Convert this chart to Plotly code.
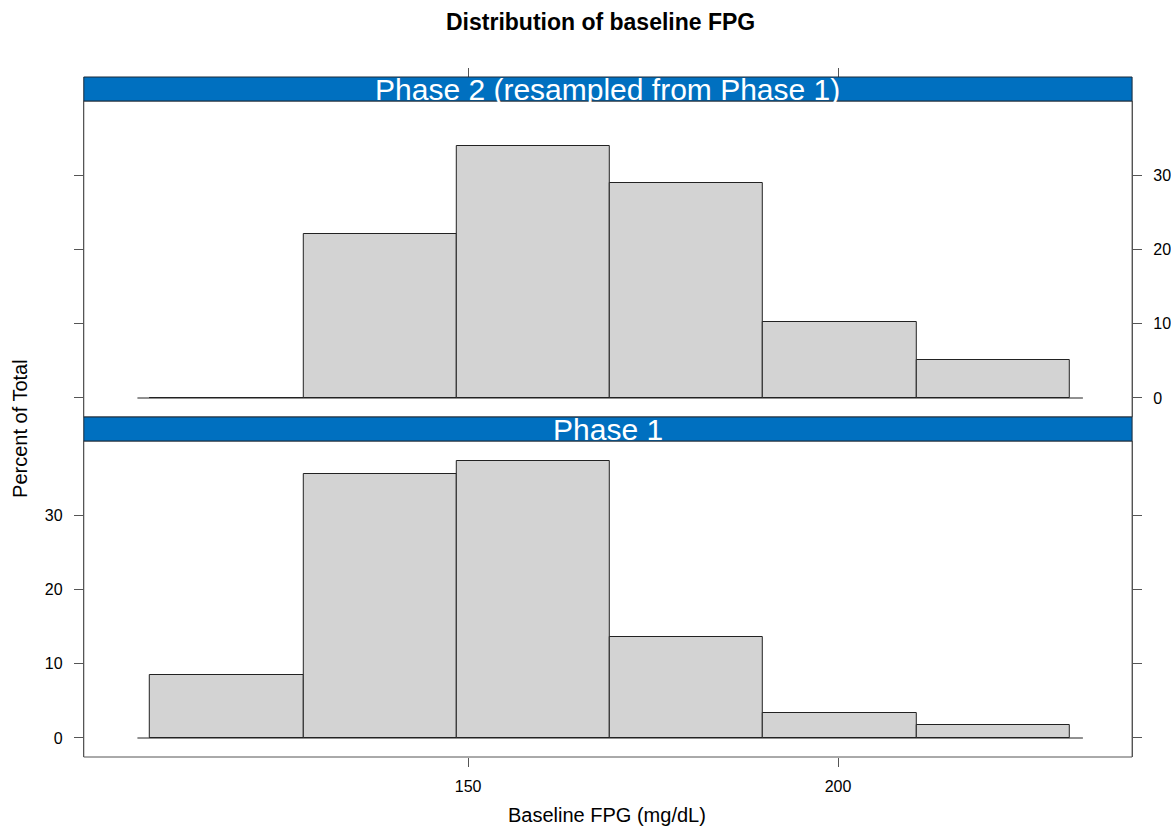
import plotly.graph_objects as go

# ---- data ----
bin_edges = [107.0, 127.72, 148.44, 169.17, 189.89, 210.61, 231.33]
phase1_pct = [8.5, 35.5, 37.3, 13.6, 3.4, 1.75]
phase2_pct = [0.0, 22.1, 33.9, 28.9, 10.2, 5.1]
panel_titles = ["Phase 1", "Phase 2 (resampled from Phase 1)"]
x_ticks = [150, 200]
y_ticks = [0, 10, 20, 30]
baseline_span = [105.3, 233.1]

centers = [(a + b) / 2 for a, b in zip(bin_edges[:-1], bin_edges[1:])]
widths = [b - a for a, b in zip(bin_edges[:-1], bin_edges[1:])]

W, H = 1171, 827
def px(x): return x / W
def py(y): return 1 - y / H

FONT = "Liberation Sans, Arial, sans-serif"
FRAME = "#555555"
STRIP = "#0070C0"

fig = go.Figure()
bar_style = dict(marker=dict(color="#D3D3D3", line=dict(color="#222222", width=1)), showlegend=False, hoverinfo="skip")
fig.add_trace(go.Bar(x=centers, y=phase1_pct, width=widths, xaxis="x", yaxis="y", **bar_style))
fig.add_trace(go.Bar(x=centers, y=phase2_pct, width=widths, xaxis="x2", yaxis="y2", **bar_style))

xl, xr = px(84), px(1135)
bot = [py(757), py(441)]
top = [py(417), py(101)]
strip_b = [py(441), py(417)]
strip_t = [py(101), py(77)]
xrange = [98.05, 239.75]
yrange = [-2.56, 39.97]

tick_common = dict(ticks="outside", ticklen=9, tickcolor=FRAME, tickwidth=1,
                   tickfont=dict(family=FONT, size=16, color="black"),
                   showgrid=False, zeroline=False)

fig.update_layout(
    width=W, height=H, margin=dict(l=0, r=0, t=0, b=0),
    paper_bgcolor="white", plot_bgcolor="white", bargap=0,
    xaxis=dict(domain=[xl, xr], range=xrange, anchor="y", tickvals=x_ticks,
               showline=False, ticklabelstandoff=6, **tick_common),
    yaxis=dict(domain=bot, range=yrange, anchor="x", tickvals=y_ticks, side="left",
               showline=True, linecolor=FRAME, mirror="ticks", ticklabelstandoff=8, **tick_common),
    xaxis2=dict(domain=[xl, xr], range=xrange, anchor="free", position=strip_t[1], side="top",
                tickvals=x_ticks, showticklabels=False, showline=False, **tick_common),
    yaxis2=dict(domain=top, range=yrange, anchor="x2", tickvals=y_ticks, side="right",
                showline=True, linecolor=FRAME, mirror="ticks", ticklabelstandoff=8, **tick_common),
)

shapes = []
# baselines
for xa, ya in [("x", "y"), ("x2", "y2")]:
    shapes.append(dict(type="line", xref=xa, yref=ya, x0=baseline_span[0], x1=baseline_span[1],
                       y0=0, y1=0, line=dict(color="#222222", width=1.2), layer="above"))
# panel frames
for d in (bot, top):
    shapes.append(dict(type="rect", xref="paper", yref="paper", x0=xl, x1=xr, y0=d[0], y1=d[1],
                       line=dict(color=FRAME, width=1), layer="above"))
# strips
for s in (strip_b, strip_t):
    shapes.append(dict(type="rect", xref="paper", yref="paper", x0=xl, x1=xr, y0=s[0], y1=s[1],
                       fillcolor=STRIP, line=dict(color="#1a2a3a", width=1), layer="above"))

annotations = []
for s, t in zip((strip_b, strip_t), panel_titles):
    annotations.append(dict(text=t, xref="paper", yref="paper", x=(xl + xr) / 2, y=s[0] - 7 / H,
                            xanchor="center", yanchor="bottom", showarrow=False,
                            font=dict(family=FONT, size=30, color="white")))
annotations.append(dict(text="<b>Distribution of baseline FPG</b>", xref="paper", yref="paper",
                        x=px(602), y=py(22.5), xanchor="center", yanchor="middle", showarrow=False,
                        font=dict(family=FONT, size=23, color="black")))
annotations.append(dict(text="Baseline FPG (mg/dL)", xref="paper", yref="paper",
                        x=px(609), y=py(815), xanchor="center", yanchor="middle", showarrow=False,
                        font=dict(family=FONT, size=20, color="black")))
annotations.append(dict(text="Percent of Total", xref="paper", yref="paper", textangle=-90,
                        x=px(20), y=py(428), xanchor="center", yanchor="middle", showarrow=False,
                        font=dict(family=FONT, size=20, color="black")))

fig.update_layout(shapes=shapes, annotations=annotations)
fig.write_html("out.html")
